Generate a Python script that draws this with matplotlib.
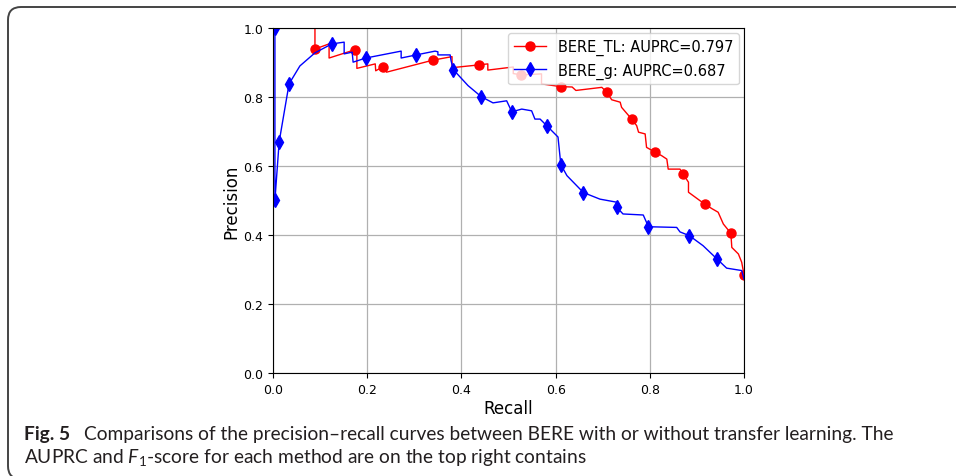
import matplotlib
matplotlib.use("Agg")
import matplotlib.pyplot as plt
from matplotlib.patches import FancyBboxPatch


# BERE_TL (red) precision-recall curve vertices
tl_recall = [0.0, 0.089, 0.089, 0.119, 0.119, 0.174, 0.178, 0.178, 0.217, 0.218,
             0.234, 0.241, 0.340, 0.380, 0.380, 0.437, 0.456, 0.456, 0.510, 0.510,
             0.527, 0.570, 0.570, 0.611, 0.635, 0.643, 0.698, 0.708, 0.719, 0.737,
             0.740, 0.762, 0.772, 0.776, 0.790, 0.793, 0.810, 0.825, 0.836, 0.839,
             0.864, 0.870, 0.882, 0.882, 0.907, 0.918, 0.931, 0.945, 0.956, 0.972,
             0.974, 0.988, 0.995, 1.0]
tl_precision = [1.0, 1.0, 0.939, 0.954, 0.913, 0.937, 0.934, 0.883, 0.896, 0.876,
                0.888, 0.872, 0.907, 0.917, 0.885, 0.893, 0.896, 0.878, 0.887, 0.868,
                0.864, 0.867, 0.838, 0.830, 0.829, 0.819, 0.828, 0.815, 0.792, 0.785,
                0.770, 0.735, 0.717, 0.698, 0.693, 0.654, 0.641, 0.630, 0.620, 0.591,
                0.591, 0.578, 0.553, 0.524, 0.499, 0.489, 0.477, 0.466, 0.432, 0.405,
                0.364, 0.345, 0.321, 0.284]
tl_marks = [0, 2, 5, 10, 12, 15, 20, 23, 27, 31, 36, 41, 45, 49, 53]

# BERE_g (blue) precision-recall curve vertices
g_recall = [0.004, 0.004, 0.013, 0.034, 0.057, 0.089, 0.125, 0.151, 0.151, 0.168,
            0.170, 0.197, 0.272, 0.272, 0.304, 0.344, 0.350, 0.350, 0.376, 0.378,
            0.383, 0.414, 0.442, 0.467, 0.496, 0.507, 0.528, 0.549, 0.556, 0.567,
            0.581, 0.605, 0.611, 0.624, 0.659, 0.694, 0.730, 0.730, 0.743, 0.786,
            0.797, 0.857, 0.864, 0.884, 0.913, 0.943, 0.963, 0.995, 1.0]
g_precision = [1.0, 0.501, 0.670, 0.838, 0.890, 0.928, 0.954, 0.959, 0.925, 0.930,
               0.901, 0.913, 0.933, 0.913, 0.922, 0.933, 0.931, 0.922, 0.922, 0.905,
               0.879, 0.833, 0.801, 0.783, 0.789, 0.757, 0.765, 0.760, 0.736, 0.736,
               0.717, 0.684, 0.604, 0.572, 0.523, 0.504, 0.495, 0.480, 0.461, 0.458,
               0.424, 0.422, 0.409, 0.398, 0.369, 0.330, 0.304, 0.297, 0.272]
g_marks = [0, 1, 2, 3, 6, 11, 14, 20, 22, 25, 30, 32, 34, 37, 40, 43, 45]

tl_label = "BERE_TL: AUPRC=0.797"
g_label = "BERE_g: AUPRC=0.687"

ticks = [0.0, 0.2, 0.4, 0.6, 0.8, 1.0]

CAPTION_FONT = "Lato"


def main() -> None:
    plt.rcParams["mathtext.fontset"] = "custom"
    plt.rcParams["mathtext.it"] = f"{CAPTION_FONT}:italic"
    plt.rcParams["mathtext.rm"] = CAPTION_FONT

    fig = plt.figure(figsize=(9.56, 4.77), dpi=100)
    ax = fig.add_axes([0.2856, 0.2159, 0.4927, 0.7233])

    ax.plot(tl_recall, tl_precision, color="red", lw=1.0, marker="o",
            markersize=6.5, markevery=tl_marks, label=tl_label)
    ax.plot(g_recall, g_precision, color="blue", lw=1.0, marker="d",
            markersize=7.5, markevery=g_marks, label=g_label)

    ax.set_xlim(0, 1)
    ax.set_ylim(0, 1)
    ax.set_xticks(ticks)
    ax.set_yticks(ticks)
    ax.tick_params(labelsize=9)
    ax.grid(True, color="#b0b0b0", lw=0.9)
    ax.set_axisbelow(True)
    ax.set_xlabel("Recall", fontsize=12, labelpad=2)
    ax.set_ylabel("Precision", fontsize=12, labelpad=2)
    ax.legend(loc="upper right", fontsize=10.5, handlelength=2.2,
              borderaxespad=0.35)

    # caption under the plot
    cap = dict(fontsize=13.8, family=CAPTION_FONT, color="#231f20")
    fig.text(0.025, 0.077, "Fig. 5", fontweight="bold", **cap)
    fig.text(0.088, 0.077,
             "Comparisons of the precision\u2013recall curves between BERE with or "
             "without transfer learning. The", **cap)
    fig.text(0.025, 0.029,
             "AUPRC and $F_1$-score for each method are on the top right contains",
             **cap)

    # rounded frame, open towards the right and bottom edges
    frame = FancyBboxPatch((0.08, -0.03), 10.2, 4.72,
                           boxstyle="round,pad=0,rounding_size=0.13",
                           transform=fig.dpi_scale_trans, fill=False,
                           edgecolor="#444444", lw=1.4, clip_on=False)
    fig.patches.append(frame)

    fig.savefig("out.png", dpi=100)
    plt.close(fig)


if __name__ == "__main__":
    main()
